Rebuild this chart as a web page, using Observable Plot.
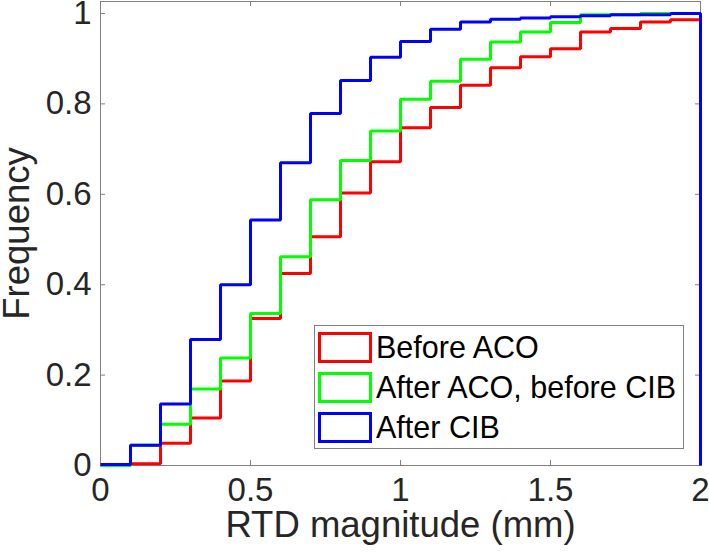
<!DOCTYPE html>
<html>
<head>
<meta charset="utf-8">
<script src="https://cdn.jsdelivr.net/npm/d3@7"></script>
<script src="https://cdn.jsdelivr.net/npm/@observablehq/plot@0.6"></script>
<style>
  html, body { margin: 0; padding: 0; background: #fff; }
  #wrap { position: relative; width: 709px; height: 553px; font-family: "Liberation Sans", Arial, sans-serif; }
  #legend { position: absolute; left: 314px; top: 325px; width: 368px; height: 122px;
    border: 1px solid #808080; background: #fff; box-sizing: content-box; padding: 0; }
  .row { position: absolute; left: 3px; height: 40px; display: flex; align-items: center; }
  .sw { width: 54px; height: 31px; box-sizing: border-box; border: 3px solid; background: #fff; flex: none; }
  .lbl { margin-left: 4px; font-size: 30.5px; color: #000; white-space: nowrap; line-height: 1; }
</style>
</head>
<body>
<div id="wrap"></div>
<script>
// ---- data ----
const binEdges = [0, 0.1, 0.2, 0.3, 0.4, 0.5, 0.6, 0.7, 0.8, 0.9, 1.0, 1.1, 1.2, 1.3, 1.4, 1.5, 1.6, 1.7, 1.8, 1.9, 2.0];
const seriesNames = ["Before ACO", "After ACO, before CIB", "After CIB"];
const seriesColors = ["#ff0000", "#00ff00", "#0000ff"];
const beforeACO = [0, 0.004, 0.049, 0.105, 0.187, 0.325, 0.425, 0.506, 0.603, 0.672, 0.747, 0.792, 0.841, 0.880, 0.904, 0.922, 0.959, 0.967, 0.981, 0.986, 0];
const afterACObeforeCIB = [0, 0.045, 0.091, 0.169, 0.238, 0.336, 0.462, 0.588, 0.675, 0.740, 0.810, 0.850, 0.899, 0.937, 0.959, 0.980, 0.997, 0.997, 1.0, 1.0, 0];
const afterCIB = [0.002, 0.045, 0.136, 0.279, 0.400, 0.543, 0.670, 0.779, 0.852, 0.903, 0.938, 0.965, 0.981, 0.987, 0.990, 0.993, 0.995, 0.997, 0.997, 1.0, 0];
const xTicks = [0, 0.5, 1, 1.5, 2];
const yTicks = [0, 0.2, 0.4, 0.6, 0.8, 1];
const xLabel = "RTD magnitude (mm)";
const yLabel = "Frequency";
const xDomain = [0, 2];
const yDomain = [0, 1.0265];

// ---- build table ----
const seriesValues = [beforeACO, afterACObeforeCIB, afterCIB];
const rows = [];
seriesValues.forEach((vals, s) => {
  vals.forEach((v, i) => rows.push({series: seriesNames[s], x: binEdges[i], y: v}));
});

const frameColor = "#808080";
const textColor = "#262626";

const chart = Plot.plot({
  width: 709,
  height: 553,
  marginLeft: 100,
  marginRight: 9,
  marginTop: 1,
  marginBottom: 88,
  style: {fontFamily: "'Liberation Sans', Arial, sans-serif", background: "#fff", overflow: "visible"},
  x: {domain: xDomain},
  y: {domain: yDomain},
  color: {domain: seriesNames, range: seriesColors},
  marks: [
    Plot.frame({stroke: frameColor, strokeWidth: 1}),
    // inward ticks
    Plot.ruleX(xTicks, {x: d => d, y1: yDomain[0], y2: yDomain[0], insetTop: -5, stroke: frameColor}),
    Plot.ruleX(xTicks, {x: d => d, y1: yDomain[1], y2: yDomain[1], insetBottom: -5, stroke: frameColor}),
    Plot.ruleY(yTicks, {y: d => d, x1: xDomain[0], x2: xDomain[0], insetRight: -5, stroke: frameColor}),
    Plot.ruleY(yTicks, {y: d => d, x1: xDomain[1], x2: xDomain[1], insetLeft: -5, stroke: frameColor}),
    Plot.axisX({ticks: xTicks, tickSize: 0, tickPadding: 12, fontSize: 33, color: textColor, label: null, tickFormat: d => String(d)}),
    Plot.axisY({ticks: yTicks, tickSize: 0, tickPadding: 9, fontSize: 33, color: textColor, label: null, tickFormat: d => String(d)}),
    Plot.line(rows, {x: "x", y: "y", z: "series", stroke: "series", strokeWidth: 3, curve: "step-after", strokeLinejoin: "miter", strokeLinecap: "butt"}),
    Plot.text([xLabel], {frameAnchor: "bottom", textAnchor: "middle", dy: 71, text: d => d, fontSize: 36.5, fill: textColor}),
    Plot.text([yLabel], {frameAnchor: "left", textAnchor: "middle", dx: -83, rotate: -90, text: d => d, fontSize: 36.5, fill: textColor})
  ]
});

const wrap = document.getElementById("wrap");
wrap.appendChild(chart);

// legend
const legend = document.createElement("div");
legend.id = "legend";
seriesNames.forEach((name, i) => {
  const row = document.createElement("div");
  row.className = "row";
  row.style.top = (1 + i * 40) + "px";
  const sw = document.createElement("div");
  sw.className = "sw";
  sw.style.borderColor = seriesColors[i];
  const lbl = document.createElement("span");
  lbl.className = "lbl";
  lbl.textContent = name;
  row.appendChild(sw);
  row.appendChild(lbl);
  legend.appendChild(row);
});
wrap.appendChild(legend);
</script>
</body>
</html>
